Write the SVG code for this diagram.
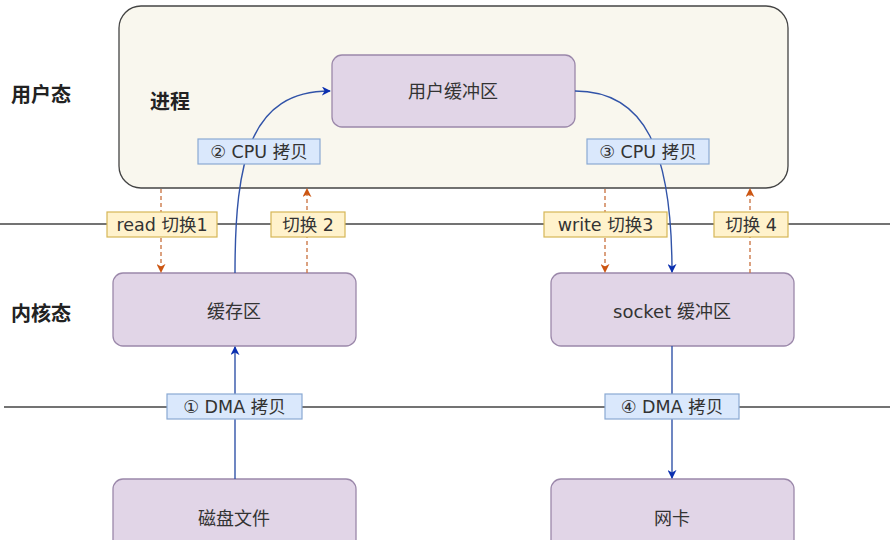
<svg xmlns="http://www.w3.org/2000/svg" width="895" height="540" viewBox="0 0 895 540">
<defs>
<style>
.t{font-family:"DejaVu Sans","Noto Sans CJK SC",sans-serif;fill:#333;text-anchor:middle;dominant-baseline:central}
.side{font-size:20px;font-weight:bold;fill:#222;font-family:"Noto Sans CJK SC","Noto Sans",sans-serif;dominant-baseline:central}
.node{fill:#e1d5e7;stroke:#9b88aa;stroke-width:1.3}
.nt{font-size:18px}
.lb{font-size:17.5px}
.blue{fill:#dae8fc;stroke:#8aa9d3;stroke-width:1.2}
.org{fill:#fff2cc;stroke:#d6b656;stroke-width:1.2}
.sep{stroke:#444;stroke-width:1.3}
.flow{fill:none;stroke:#3153a8;stroke-width:1.4}
.sw{fill:none;stroke:#cc7a4a;stroke-width:1.4;stroke-dasharray:4 3}
</style>
<marker id="ab" viewBox="0 0 10 10" refX="9" refY="5" markerWidth="9" markerHeight="9" orient="auto" markerUnits="userSpaceOnUse">
<path d="M0,0 L10,5 L0,10 L3,5 Z" fill="#0a2fb0"/>
</marker>
<marker id="ao" viewBox="0 0 10 10" refX="9" refY="5" markerWidth="9" markerHeight="9" orient="auto" markerUnits="userSpaceOnUse">
<path d="M0,0 L10,5 L0,10 L3,5 Z" fill="#cc5511"/>
</marker>
</defs>
<rect width="895" height="540" fill="#ffffff"/>

<g id="separators">
<line class="sep" x1="0" y1="224" x2="890" y2="224"/>
<line class="sep" x1="4" y1="407" x2="890" y2="407"/>
</g>

<g id="side-labels">
<text class="side" x="11" y="93">用户态</text>
<text class="side" x="11" y="312">内核态</text>
</g>

<g id="process">
<rect x="119" y="6" width="669" height="182" rx="22" fill="#f9f7ee" stroke="#444" stroke-width="1.3"/>
<text class="side" x="150" y="100">进程</text>
</g>

<g id="user-buffer">
<rect class="node" x="332" y="55" width="243" height="72" rx="10"/>
<text class="t nt" x="453" y="91">用户缓冲区</text>
</g>

<g id="page-cache">
<rect class="node" x="113" y="273" width="243" height="73" rx="10"/>
<text class="t nt" x="234" y="311">缓存区</text>
</g>

<g id="socket-buffer">
<rect class="node" x="551" y="273" width="243" height="73" rx="10"/>
<text class="t nt" x="672" y="311">socket 缓冲区</text>
</g>

<g id="disk">
<rect class="node" x="113" y="479" width="243" height="80" rx="10"/>
<text class="t nt" x="234" y="518">磁盘文件</text>
</g>

<g id="nic">
<rect class="node" x="551" y="479" width="243" height="80" rx="10"/>
<text class="t nt" x="672" y="518">网卡</text>
</g>

<g id="connectors">
<path class="flow" d="M235,273 C235,160 250,91 330,91" marker-end="url(#ab)"/>
<path class="flow" d="M575,91 C645,91 672,150 672,272" marker-end="url(#ab)"/>
<path class="flow" d="M235,479 L235,347" marker-end="url(#ab)"/>
<path class="flow" d="M672,346 L672,478" marker-end="url(#ab)"/>
<path class="sw" d="M161,189 L161,272" marker-end="url(#ao)"/>
<path class="sw" d="M307,273 L307,189" marker-end="url(#ao)"/>
<path class="sw" d="M605,189 L605,272" marker-end="url(#ao)"/>
<path class="sw" d="M750,273 L750,189" marker-end="url(#ao)"/>
</g>

<g id="label-cpu2">
<rect class="blue" x="198" y="139" width="122" height="25"/>
<text class="t lb" x="259" y="151.5">② CPU 拷贝</text>
</g>
<g id="label-cpu3">
<rect class="blue" x="587" y="139" width="122" height="25"/>
<text class="t lb" x="648" y="151.5">③ CPU 拷贝</text>
</g>
<g id="label-dma1">
<rect class="blue" x="167" y="394" width="135" height="25"/>
<text class="t lb" x="234.5" y="406.5">① DMA 拷贝</text>
</g>
<g id="label-dma4">
<rect class="blue" x="605" y="394" width="134" height="25"/>
<text class="t lb" x="672" y="406.5">④ DMA 拷贝</text>
</g>
<g id="label-sw1">
<rect class="org" x="107" y="212" width="110" height="25"/>
<text class="t lb" x="162" y="224.5">read 切换1</text>
</g>
<g id="label-sw2">
<rect class="org" x="271" y="212" width="74" height="25"/>
<text class="t lb" x="308" y="224.5">切换 2</text>
</g>
<g id="label-sw3">
<rect class="org" x="544" y="212" width="123" height="25"/>
<text class="t lb" x="605.5" y="224.5">write 切换3</text>
</g>
<g id="label-sw4">
<rect class="org" x="714" y="212" width="74" height="25"/>
<text class="t lb" x="751" y="224.5">切换 4</text>
</g>
</svg>
